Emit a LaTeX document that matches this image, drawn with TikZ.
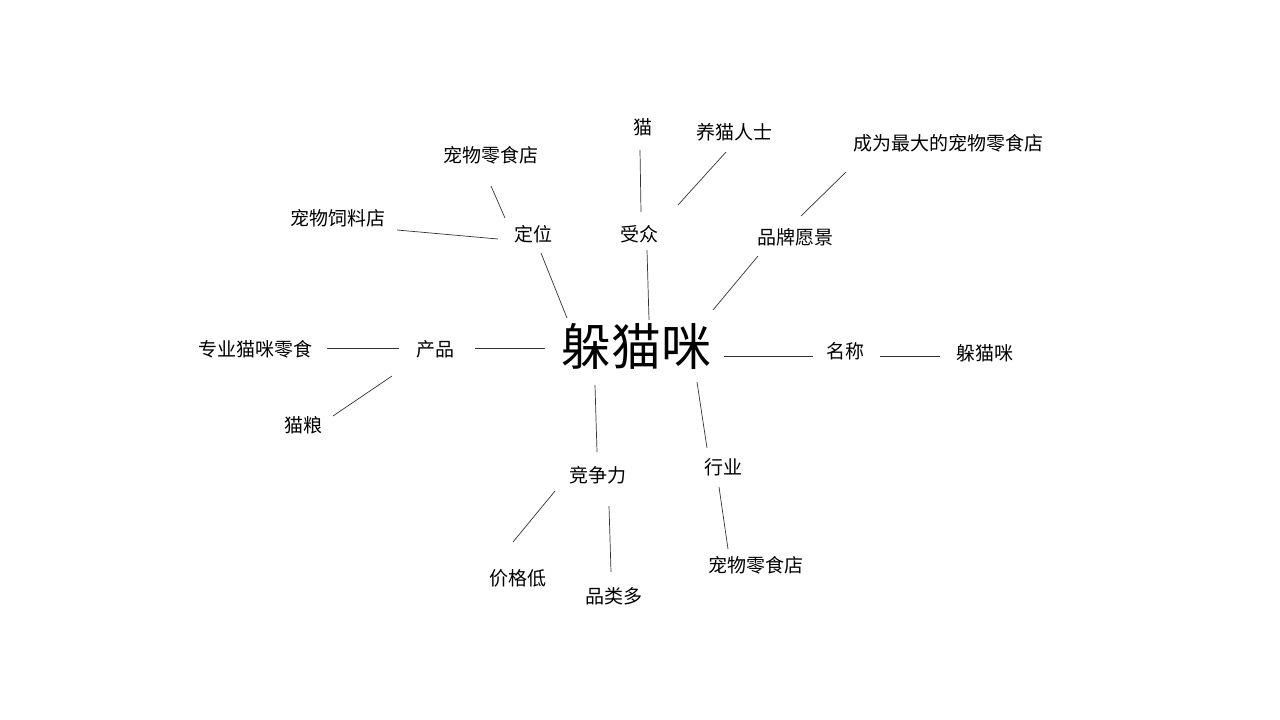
\documentclass[tikz,border=0pt]{standalone}
\usepackage{fontspec}
\setmainfont{Noto Sans CJK SC}
\begin{document}
\begin{tikzpicture}[x=1pt,y=-1pt,
  lbl/.style={font=\fontsize{19}{21}\selectfont,inner sep=0pt},
  big/.style={font=\fontsize{50}{54}\selectfont,inner sep=0pt},
  ln/.style={draw=black!80,line width=0.7pt}]
\useasboundingbox[fill=white] (0,0) rectangle (1280,720);
\node[big] (c) at (636,346) {躲猫咪};
\node[lbl] (dw) at (533,234) {定位};
\node[lbl] (sz) at (639,234) {受众};
\node[lbl] (pp) at (795,237) {品牌愿景};
\node[lbl] (cp) at (435,349) {产品};
\node[lbl] (mc) at (845,351) {名称};
\node[lbl] (dm) at (985,353) {躲猫咪};
\node[lbl] (jz) at (598,475) {竞争力};
\node[lbl] (hy) at (723,467) {行业};
\node[lbl] (lsd) at (491,155) {宠物零食店};
\node[lbl] (slд) at (338,218) {宠物饲料店};
\node[lbl] (mao) at (643,127) {猫};
\node[lbl] (yang) at (734,132) {养猫人士};
\node[lbl] (cw) at (948,143) {成为最大的宠物零食店};
\node[lbl] (zy) at (255,349) {专业猫咪零食};
\node[lbl] (ml) at (303,425) {猫粮};
\node[lbl] (jg) at (518,578) {价格低};
\node[lbl] (pl) at (614,596) {品类多};
\node[lbl] (lsd2) at (756,565) {宠物零食店};
\foreach \n/\ax/\ay/\bx/\by in {
 a/567/318/541/253, b/649/320/647/250, d/713/310/758/256, e/545/348/475/348,
 f/724/356/813/356, g/880/356/940/356, h/595/385/597/452, i/697/382/707/448,
 j/505/218/491/186, k/498/239/397/230, l/641/212/640/150, m/678/205/726/152,
 n/801/216/846/172, o/399/348/327/348, p/392/376/333/416, q/555/491/513/542,
 r/609/506/611/572, s/719/487/728/549}{
  \coordinate (\n1) at (\ax,\ay);
  \coordinate (\n2) at (\bx,\by);
  \draw[ln] (\n1) -- (\n2);
}
\end{tikzpicture}
\end{document}
